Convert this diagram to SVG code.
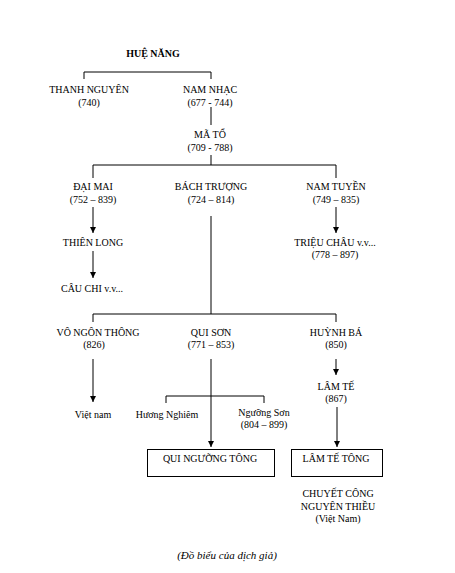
<svg xmlns="http://www.w3.org/2000/svg" width="455" height="573" viewBox="0 0 455 573">
<defs>
<style>
text{font-family:"Liberation Serif","Times New Roman",serif;font-size:10px;fill:#000;text-anchor:middle}
.b{font-weight:bold}
.i{font-style:italic;font-size:11px}
.l{stroke:#000;stroke-width:1;fill:none}
.box{stroke:#000;stroke-width:1;fill:#fff}
</style>
<marker id="ah" viewBox="0 0 6 6" refX="6" refY="3" markerWidth="6" markerHeight="6" markerUnits="userSpaceOnUse" orient="auto">
<path d="M0,0 L6,3 L0,6 Z" fill="#000"/>
</marker>
</defs>
<rect width="455" height="573" fill="#fff"/>
<g id="connectors">
<path class="l" d="M84,79 V72 H211 V79"/>
<path class="l" d="M211,107 V125"/>
<path class="l" d="M211,155 V165 M93,178 V165 H336 V178"/>
<path class="l" d="M93,207 V233" marker-end="url(#ah)"/>
<path class="l" d="M93,251 V278" marker-end="url(#ah)"/>
<path class="l" d="M336,207 V233" marker-end="url(#ah)"/>
<path class="l" d="M211,216 V314 M93,322 V314 H336 V322"/>
<path class="l" d="M93,359 V402" marker-end="url(#ah)"/>
<path class="l" d="M336,359 V375" marker-end="url(#ah)"/>
<path class="l" d="M166,403 V396 H264 V403"/>
<path class="l" d="M211,359 V447" marker-end="url(#ah)"/>
<path class="l" d="M337,407 V447" marker-end="url(#ah)"/>
</g>
<g id="hue-nang"><text class="b" x="153" y="57">HUỆ NĂNG</text></g>
<g id="thanh-nguyen"><text x="89" y="93">THANH NGUYÊN</text><text x="89" y="106">(740)</text></g>
<g id="nam-nhac"><text x="210" y="93">NAM NHẠC</text><text x="210" y="106">(677 - 744)</text></g>
<g id="ma-to"><text x="210" y="138">MÃ TỔ</text><text x="210" y="151">(709 - 788)</text></g>
<g id="dai-mai"><text x="93" y="190">ĐẠI MAI</text><text x="93" y="203">(752 – 839)</text></g>
<g id="bach-truong"><text x="211" y="190">BÁCH TRƯỢNG</text><text x="211" y="203">(724 – 814)</text></g>
<g id="nam-tuyen"><text x="336" y="190">NAM TUYỀN</text><text x="336" y="203">(749 – 835)</text></g>
<g id="thien-long"><text x="93" y="246">THIÊN LONG</text></g>
<g id="cau-chi"><text x="92" y="292">CÂU CHI v.v...</text></g>
<g id="trieu-chau"><text x="335" y="246">TRIỆU CHÂU v.v...</text><text x="335" y="258">(778 – 897)</text></g>
<g id="vo-ngon-thong"><text x="98" y="336">VÔ NGÔN THÔNG</text><text x="94" y="348">(826)</text></g>
<g id="qui-son"><text x="211" y="336">QUI SƠN</text><text x="211" y="348">(771 – 853)</text></g>
<g id="huynh-ba"><text x="336" y="336">HUỲNH BÁ</text><text x="336" y="348">(850)</text></g>
<g id="lam-te"><text x="336" y="390">LÂM TẾ</text><text x="336" y="402">(867)</text></g>
<g id="viet-nam"><text x="93" y="418">Việt nam</text></g>
<g id="huong-nghiem"><text x="167" y="418">Hương Nghiêm</text></g>
<g id="nguong-son"><text x="264" y="416">Ngưỡng Sơn</text><text x="264" y="428">(804 – 899)</text></g>
<g id="qui-nguong-tong"><rect class="box" x="147.5" y="449.5" width="127" height="27"/><text x="210" y="462">QUI NGƯỠNG TÔNG</text></g>
<g id="lam-te-tong"><rect class="box" x="291.5" y="449.5" width="91" height="27"/><text x="336" y="462">LÂM TẾ TÔNG</text></g>
<g id="chuyet-cong"><text x="338" y="497">CHUYẾT CÔNG</text><text x="338" y="510">NGUYÊN THIỀU</text><text x="338" y="522">(Việt Nam)</text></g>
<g id="caption"><text class="i" x="227" y="559">(Đồ biểu của dịch giả)</text></g>
</svg>
